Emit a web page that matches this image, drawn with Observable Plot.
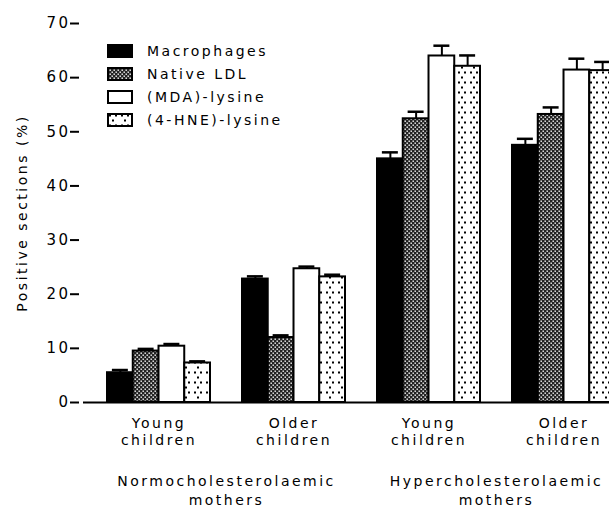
<!DOCTYPE html>
<html>
<head>
<meta charset="utf-8">
<script src="https://cdn.jsdelivr.net/npm/d3@7"></script>
<script src="https://cdn.jsdelivr.net/npm/@observablehq/plot@0.6"></script>
<style>
  html, body { margin: 0; padding: 0; background: white; overflow: hidden; }
  #chart { position: relative; width: 609px; height: 515px; overflow: hidden; }
  #chart svg { letter-spacing: 2.5px; }
</style>
</head>
<body>
<div id="chart"></div>
<script>
// Study groups (child age within maternal status)
const ages = ["Young\nchildren", "Older\nchildren"];
const mothers = ["Normocholesterolaemic\nmothers", "Hypercholesterolaemic\nmothers"];
const groupKeys = ["young-normo", "older-normo", "young-hyper", "older-hyper"];
const groupAge = [ages[0], ages[1], ages[0], ages[1]];

// Staining series
const series = ["Macrophages", "Native LDL", "(MDA)-lysine", "(4-HNE)-lysine"];

// Positive sections (%) per group, one array per series
const macrophages = [5.5, 22.8, 45.0, 47.5];
const nativeLDL   = [9.5, 12.0, 52.4, 53.2];
const mdaLysine   = [10.4, 24.7, 64.0, 61.4];
const hneLysine   = [7.3, 23.2, 62.1, 61.3];

// Standard errors (upper bars only)
const macrophagesErr = [0.5, 0.5, 1.2, 1.2];
const nativeLDLErr   = [0.4, 0.4, 1.3, 1.3];
const mdaLysineErr   = [0.4, 0.4, 1.9, 2.1];
const hneLysineErr   = [0.3, 0.4, 2.0, 1.6];

const yTicks = [0, 10, 20, 30, 40, 50, 60, 70];

const seriesValues = [macrophages, nativeLDL, mdaLysine, hneLysine];
const seriesErrors = [macrophagesErr, nativeLDLErr, mdaLysineErr, hneLysineErr];
const seriesFill = ["black", "url(#pat-native)", "white", "url(#pat-hne)"];

const rows = series.map((s, si) => groupKeys.map((g, gi) => ({
  series: s, si, group: g, value: seriesValues[si][gi], err: seriesErrors[si][gi]
})));

// Layout
const width = 643, height = 515;
const marginLeft = 79, marginRight = 0, marginTop = 23, marginBottom = 113;
const padInner = 0.237, padOuter = 0.207;
const step = (width - marginLeft - marginRight) / (groupKeys.length - padInner + 2 * padOuter);
const bw = step * (1 - padInner) / series.length; // width of one bar
const capW = 16;

const marks = [];
rows.forEach((data, si) => {
  const left = si * bw, right = (series.length - 1 - si) * bw;
  marks.push(Plot.barY(data, {
    x: "group", y: "value", fill: seriesFill[si], stroke: "black", strokeWidth: 2,
    insetLeft: left, insetRight: right
  }));
});
rows.forEach((data, si) => {
  const left = si * bw, right = (series.length - 1 - si) * bw;
  const dx = (si - (series.length - 1) / 2) * bw;
  marks.push(Plot.ruleX(data, {
    x: "group", y1: "value", y2: d => d.value + d.err, dx, stroke: "black", strokeWidth: 2
  }));
  marks.push(Plot.tickY(data, {
    x: "group", y: d => d.value + d.err, stroke: "black", strokeWidth: 2.5,
    insetLeft: left + (bw - capW) / 2, insetRight: right + (bw - capW) / 2
  }));
});

// Baseline (starts just right of the y axis)
marks.push(Plot.ruleY([0], {stroke: "black", strokeWidth: 2, insetLeft: 4}));

// Y axis
marks.push(Plot.axisY({
  ticks: yTicks, tickSize: 9, tickPadding: 0, line: true, strokeWidth: 2,
  label: null, fontSize: 15
}));

// Y axis title
marks.push(Plot.text(["Positive sections (%)"], {
  frameAnchor: "left", textAnchor: "middle", rotate: -90, dx: -57, fontSize: 14, text: d => d
}));

// Group labels under each cluster
marks.push(Plot.text(groupKeys, {
  x: d => d, text: (d, i) => groupAge[i], frameAnchor: "bottom",
  lineAnchor: "top", dy: 14, fontSize: 14, lineHeight: 1.2
}));

// Maternal status labels, centred between their two clusters
marks.push(Plot.text(mothers, {
  x: (d, i) => groupKeys[i * 2], text: d => d, frameAnchor: "bottom",
  dx: step / 2, lineAnchor: "top", dy: 71, fontSize: 14, lineHeight: 1.3
}));

const chart = Plot.plot({
  width, height, marginLeft, marginRight, marginTop, marginBottom,
  style: {fontFamily: "DejaVu Sans", fontSize: "14px", color: "black", maxWidth: "none", background: "white"},
  x: {domain: groupKeys, paddingInner: padInner, paddingOuter: padOuter, axis: null},
  y: {domain: [0, 70], axis: null},
  marks
});

// Fill patterns for the hatched series
const svg = d3.select(chart);
const defs = svg.insert("defs", ":first-child");
const pNative = defs.append("pattern").attr("id", "pat-native")
  .attr("patternUnits", "userSpaceOnUse").attr("width", 4).attr("height", 4);
pNative.append("rect").attr("width", 4).attr("height", 4).attr("fill", "#222");
pNative.append("rect").attr("x", 0.5).attr("y", 0.5).attr("width", 1.4).attr("height", 1.4).attr("fill", "white");
pNative.append("rect").attr("x", 2.5).attr("y", 2.5).attr("width", 1.4).attr("height", 1.4).attr("fill", "white");

const pHne = defs.append("pattern").attr("id", "pat-hne")
  .attr("patternUnits", "userSpaceOnUse").attr("width", 12).attr("height", 10);
pHne.append("rect").attr("width", 12).attr("height", 10).attr("fill", "white");
[[3, 2.5], [9, 2.5], [6, 7.5]].forEach(([cx, cy]) =>
  pHne.append("rect").attr("x", cx - 1).attr("y", cy - 1).attr("width", 2).attr("height", 2).attr("fill", "black"));

// Legend inside the plot area
const legend = svg.append("g").attr("transform", "translate(107,44)");
series.forEach((s, i) => {
  const g = legend.append("g").attr("transform", `translate(0,${i * 23})`);
  g.append("rect").attr("x", 1).attr("y", 1).attr("width", 24).attr("height", 12)
    .attr("fill", seriesFill[i]).attr("stroke", "black").attr("stroke-width", 2);
  g.append("text").attr("x", 40).attr("y", 7).attr("dy", "0.35em")
    .attr("text-anchor", "start").attr("font-size", 14).attr("fill", "black").text(s);
});

document.getElementById("chart").appendChild(chart);
</script>
</body>
</html>
